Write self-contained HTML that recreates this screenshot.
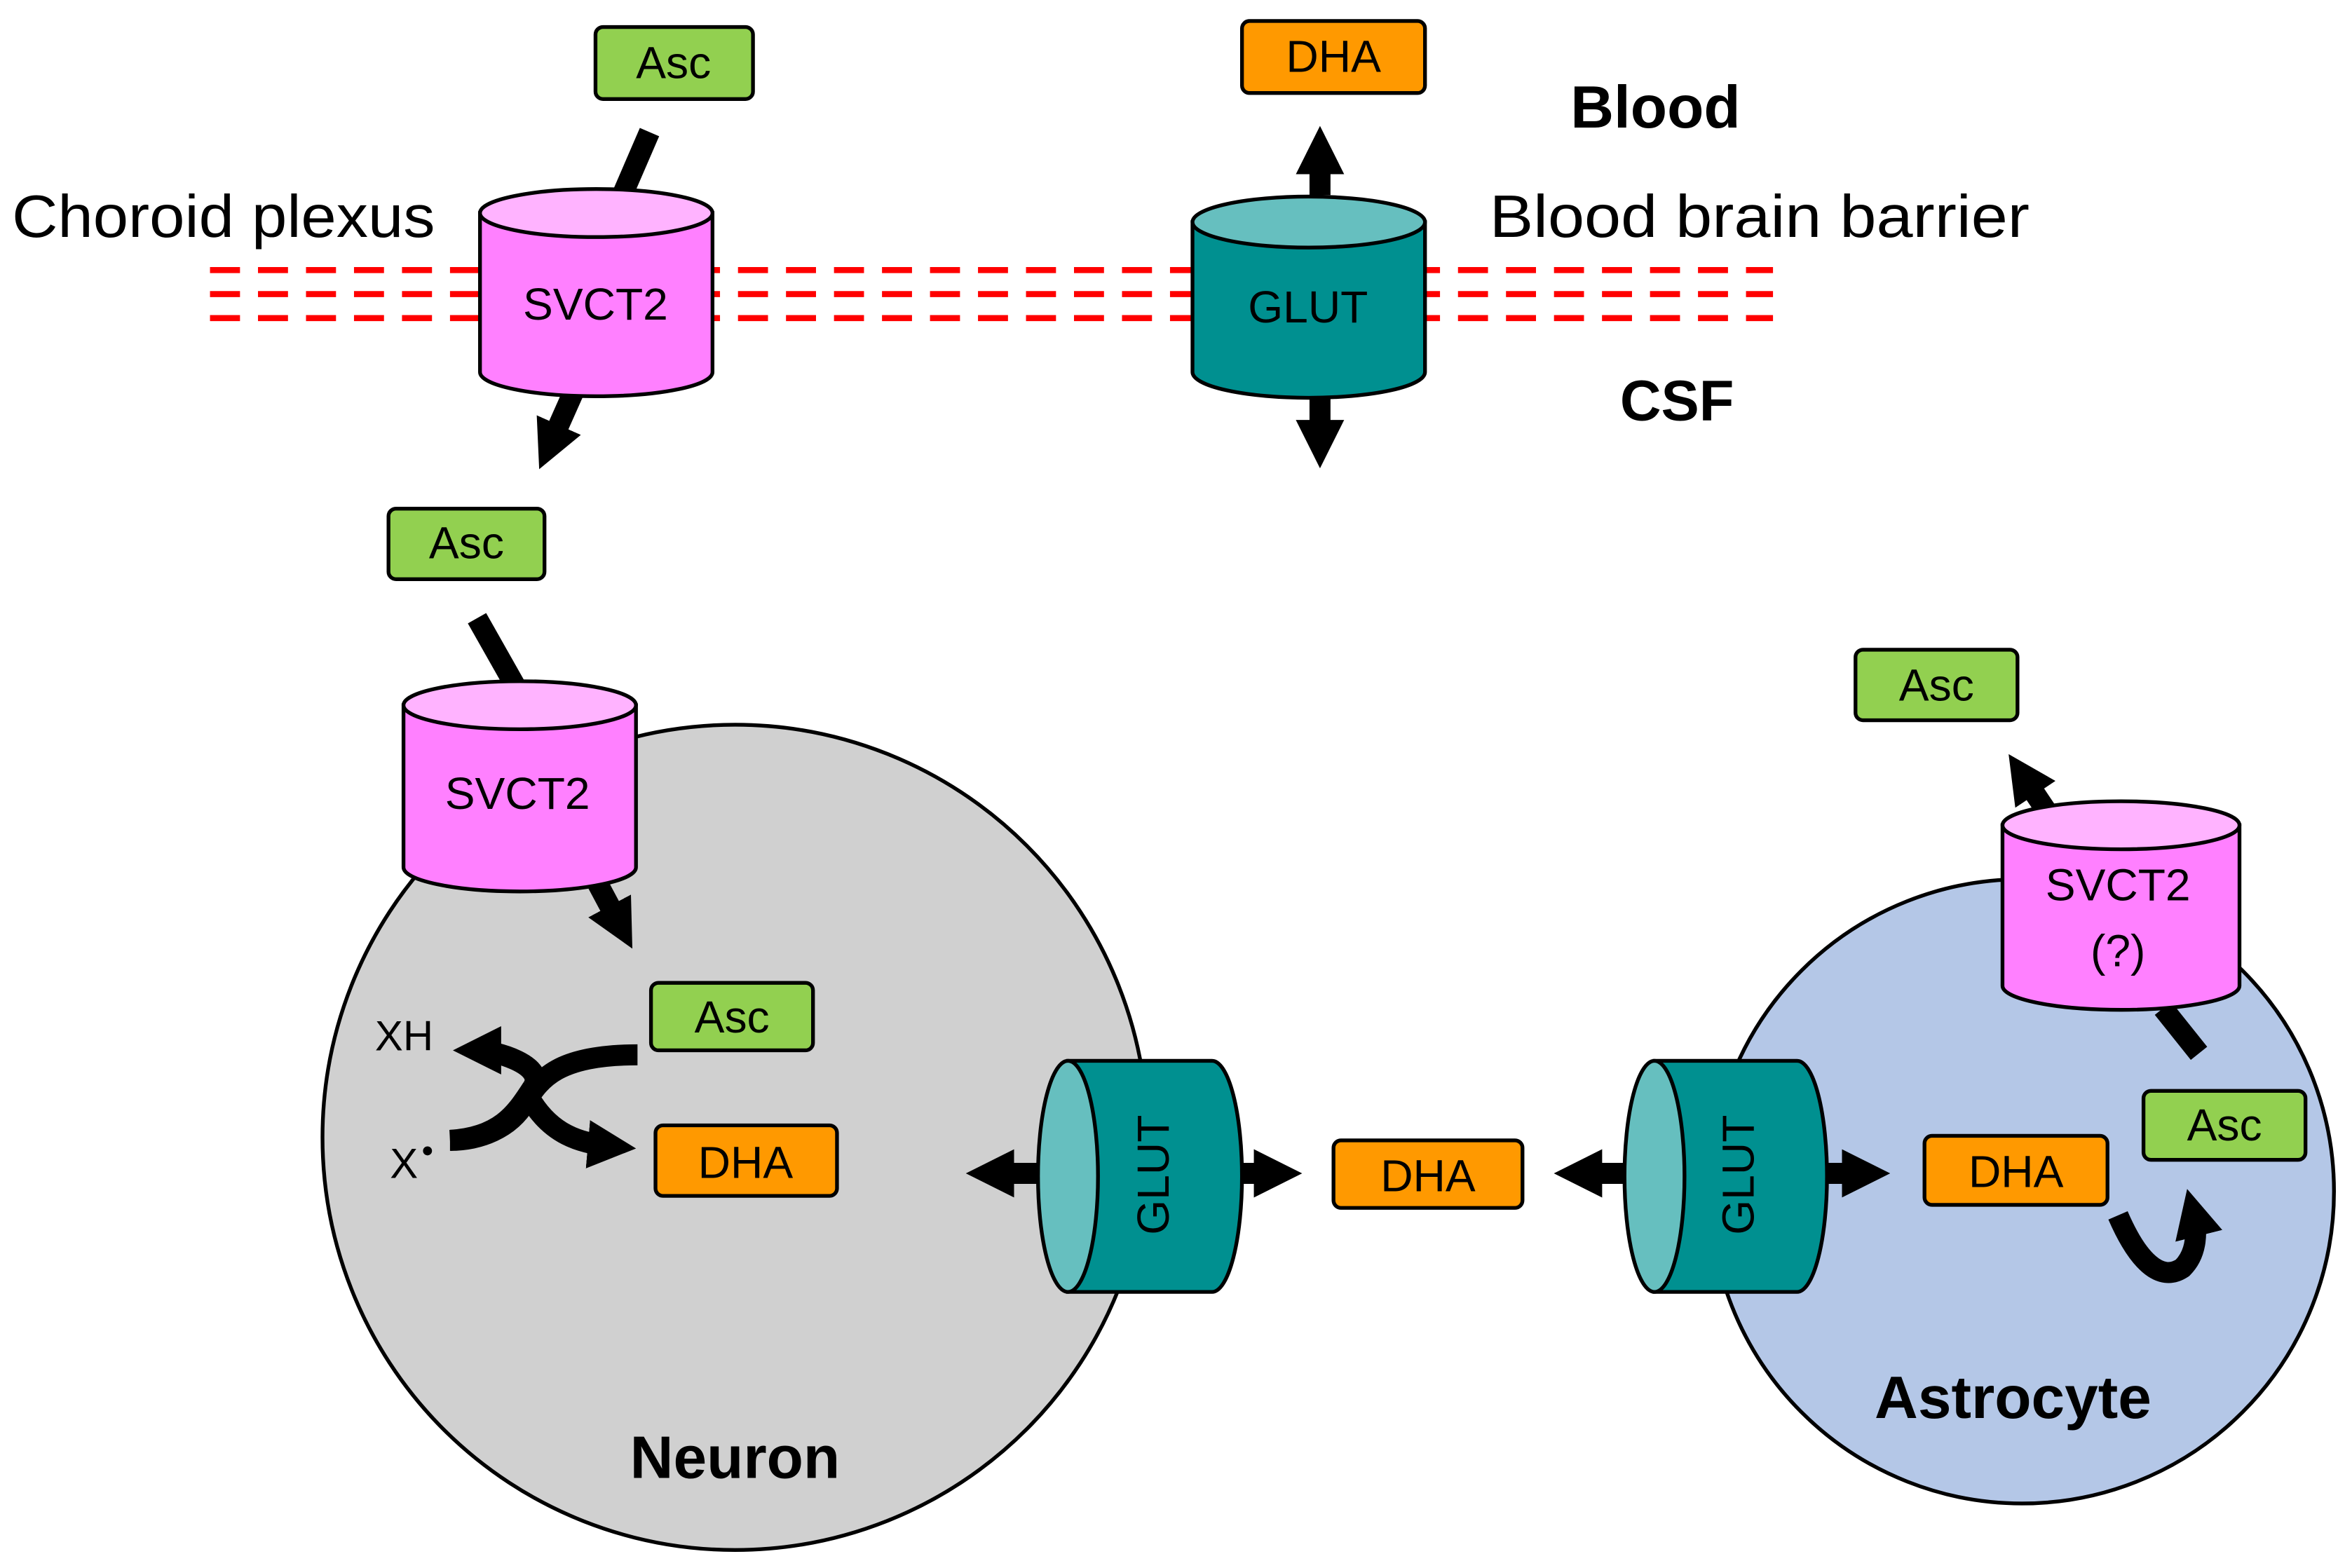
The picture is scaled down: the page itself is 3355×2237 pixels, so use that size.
<!DOCTYPE html>
<html><head><meta charset="utf-8"><style>
html,body{margin:0;padding:0;background:#fff}
svg{display:block}
text{font-family:"Liberation Sans",sans-serif}
</style></head><body>
<svg width="3355" height="2237" viewBox="0 0 1568 1045" preserveAspectRatio="none" xmlns="http://www.w3.org/2000/svg">
<defs>
<marker id="ah" viewBox="0 0 10 10" refX="5" refY="5" markerWidth="2.3" markerHeight="2.3" orient="auto-start-reverse" markerUnits="strokeWidth">
<path d="M0,0 L10,5 L0,10 z" fill="#000"/>
</marker>
</defs>
<rect width="1568" height="1045" fill="#fff"/>

<g stroke="#f00" stroke-width="4" stroke-dasharray="20,12">
<line x1="140" y1="180" x2="1182" y2="180"/>
<line x1="140" y1="196" x2="1182" y2="196"/>
<line x1="140" y1="212" x2="1182" y2="212"/>
</g>

<circle cx="490" cy="758" r="275" fill="#D0D0D0" stroke="#000" stroke-width="2.5"/>
<circle cx="1348" cy="794" r="208" fill="#B4C7E7" stroke="#000" stroke-width="2.5"/>

<text x="8" y="158" font-size="40" textLength="282" lengthAdjust="spacingAndGlyphs">Choroid plexus</text>
<text x="993" y="158" font-size="40" textLength="360" lengthAdjust="spacingAndGlyphs">Blood brain barrier</text>
<text x="1047" y="85" font-size="40" font-weight="bold">Blood</text>
<text x="1080" y="280" font-size="38" font-weight="bold">CSF</text>
<text x="490" y="985" font-size="40" font-weight="bold" text-anchor="middle">Neuron</text>
<text x="1342" y="945" font-size="40" font-weight="bold" text-anchor="middle">Astrocyte</text>

<g stroke="#000" stroke-width="14" fill="none">
<line x1="433" y1="88" x2="414" y2="132"/>
<line x1="382" y1="262" x2="366" y2="298" marker-end="url(#ah)"/>
<line x1="880" y1="130" x2="880" y2="100" marker-end="url(#ah)"/>
<line x1="880" y1="262" x2="880" y2="296" marker-end="url(#ah)"/>
<line x1="318" y1="412" x2="344" y2="458"/>
<line x1="398" y1="588" x2="414" y2="618" marker-end="url(#ah)"/>
<line x1="692" y1="782" x2="660" y2="782" marker-end="url(#ah)"/>
<line x1="828" y1="782" x2="852" y2="782" marker-end="url(#ah)"/>
<line x1="1083" y1="782" x2="1052" y2="782" marker-end="url(#ah)"/>
<line x1="1218" y1="782" x2="1244" y2="782" marker-end="url(#ah)"/>
<line x1="1466" y1="702" x2="1442" y2="672"/>
<line x1="1364" y1="540" x2="1348" y2="516" marker-end="url(#ah)"/>
<path d="M425,703 C370,703 360,720 350,735 C340,752 320,760 300,760"/>
<path d="M300,760 C335,758 345,740 355,725" />
<path d="M355,725 C365,710 330,700 318,700" marker-end="url(#ah)"/>
<path d="M355,735 C368,755 385,762 408,764" marker-end="url(#ah)"/>
<path d="M1412,810 C1425,840 1440,855 1455,845 C1465,835 1465,820 1462,808" marker-end="url(#ah)"/>
</g>

<g stroke="#000" stroke-width="2.5">
<path d="M320,142 L320,248 A77,16 0 0 0 475,248 L475,142 Z" fill="#FF80FF"/>
<ellipse cx="397.5" cy="142" rx="77.5" ry="16" fill="#FFB3FF"/>
</g>
<text x="397" y="213" font-size="30" text-anchor="middle">SVCT2</text>

<g stroke="#000" stroke-width="2.5">
<path d="M795,148 L795,248 A77,17 0 0 0 950,248 L950,148 Z" fill="#009090"/>
<ellipse cx="872.5" cy="148" rx="77.5" ry="17" fill="#66BFBF"/>
</g>
<text x="872" y="215" font-size="30" text-anchor="middle">GLUT</text>

<g stroke="#000" stroke-width="2.5">
<path d="M269,470 L269,578 A77,16 0 0 0 424,578 L424,470 Z" fill="#FF80FF"/>
<ellipse cx="346.5" cy="470" rx="77.5" ry="16" fill="#FFB3FF"/>
</g>
<text x="345" y="539" font-size="30" text-anchor="middle">SVCT2</text>

<g stroke="#000" stroke-width="2.5">
<path d="M1335,550 L1335,657 A79,16 0 0 0 1493,657 L1493,550 Z" fill="#FF80FF"/>
<ellipse cx="1414" cy="550" rx="79" ry="16" fill="#FFB3FF"/>
</g>
<text x="1412" y="600" font-size="30" text-anchor="middle">SVCT2</text>
<text x="1412" y="644" font-size="30" text-anchor="middle">(?)</text>

<g stroke="#000" stroke-width="2.5">
<path d="M712,707 L808,707 A20,77 0 0 1 808,861 L712,861 Z" fill="#009090"/>
<ellipse cx="712" cy="784" rx="20" ry="77" fill="#66BFBF"/>
</g>
<text x="0" y="0" font-size="30" text-anchor="middle" transform="translate(779,783) rotate(-90)">GLUT</text>
<g stroke="#000" stroke-width="2.5">
<path d="M1103,707 L1198,707 A20,77 0 0 1 1198,861 L1103,861 Z" fill="#009090"/>
<ellipse cx="1103" cy="784" rx="20" ry="77" fill="#66BFBF"/>
</g>
<text x="0" y="0" font-size="30" text-anchor="middle" transform="translate(1169,783) rotate(-90)">GLUT</text>

<g stroke="#000" stroke-width="2.5">
<rect x="397" y="18" width="105" height="48" rx="5" fill="#92D050"/>
<rect x="828" y="14" width="122" height="48" rx="5" fill="#FF9900"/>
<rect x="259" y="339" width="104" height="47" rx="5" fill="#92D050"/>
<rect x="434" y="655" width="108" height="45" rx="5" fill="#92D050"/>
<rect x="437" y="750" width="121" height="47" rx="5" fill="#FF9900"/>
<rect x="889" y="760" width="126" height="45" rx="5" fill="#FF9900"/>
<rect x="1283" y="757" width="122" height="46" rx="5" fill="#FF9900"/>
<rect x="1429" y="727" width="108" height="46" rx="5" fill="#92D050"/>
<rect x="1237" y="433" width="108" height="47" rx="5" fill="#92D050"/>
</g>
<g font-size="30" text-anchor="middle">
<text x="449" y="52">Asc</text>
<text x="889" y="48">DHA</text>
<text x="311" y="372">Asc</text>
<text x="488" y="688">Asc</text>
<text x="497" y="785">DHA</text>
<text x="952" y="794">DHA</text>
<text x="1344" y="791">DHA</text>
<text x="1483" y="760">Asc</text>
<text x="1291" y="467">Asc</text>
</g>
<text x="250" y="700" font-size="28">XH</text>
<text x="260" y="785" font-size="28">X</text>
<circle cx="285" cy="767" r="3" fill="#000"/>
</svg>
</body></html>
